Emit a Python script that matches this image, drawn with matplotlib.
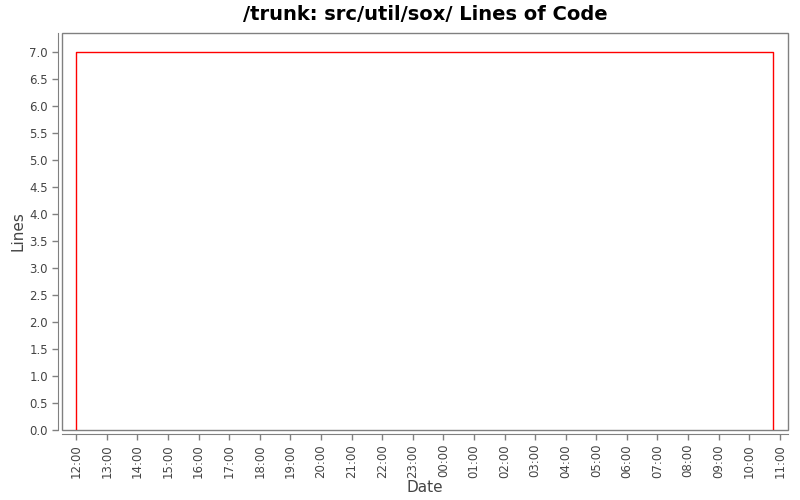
import matplotlib
matplotlib.use('Agg')
import matplotlib.pyplot as plt
import matplotlib.dates as mdates
from matplotlib.patches import Rectangle
from datetime import datetime

# data
dates = [datetime(2009, 1, 1, 12, 0), datetime(2009, 1, 1, 12, 0),
         datetime(2009, 1, 2, 10, 47), datetime(2009, 1, 2, 10, 47)]
lines = [0, 7, 7, 0]

tick_times = [datetime(2009, 1, 1, 12, 0) + (datetime(2009, 1, 1, 13) - datetime(2009, 1, 1, 12)) * i
              for i in range(24)]
y_ticks = [i * 0.5 for i in range(15)]

fig = plt.figure(figsize=(8, 5), dpi=100)
ax = fig.add_axes([62 / 800, 70 / 500, 726 / 800, 397 / 500])

ax.plot(dates, lines, color='red', linewidth=1)

ax.set_xlim(datetime(2009, 1, 1, 11, 32), datetime(2009, 1, 2, 11, 16))
ax.set_ylim(0, 7.35)
ax.set_xticks(tick_times)
ax.xaxis.set_major_formatter(mdates.DateFormatter('%H:%M'))
ax.set_yticks(y_ticks)
ax.set_yticklabels(['%.1f' % v for v in y_ticks])

for s in ['top', 'right']:
    ax.spines[s].set_visible(False)
for s in ['left', 'bottom']:
    ax.spines[s].set_position(('outward', 3))
    ax.spines[s].set_color('#808080')

ax.add_patch(Rectangle((0, 0), 1, 1, transform=ax.transAxes, fill=False,
                       edgecolor='#808080', linewidth=1, clip_on=False))

ax.tick_params(axis='x', labelrotation=90, labelsize=8.5, colors='#444444',
               length=4, width=1, color='#808080', pad=3)
ax.tick_params(axis='y', labelsize=8.5, colors='#444444', length=4, width=1, color='#808080', pad=3)

ax.set_title('/trunk: src/util/sox/ Lines of Code', fontsize=14, fontweight='bold', pad=9)
ax.set_xlabel('Date', fontsize=11, color='#444444', labelpad=2)
ax.set_ylabel('Lines', fontsize=11, color='#444444', labelpad=3)

plt.savefig('out.png', dpi=100)
